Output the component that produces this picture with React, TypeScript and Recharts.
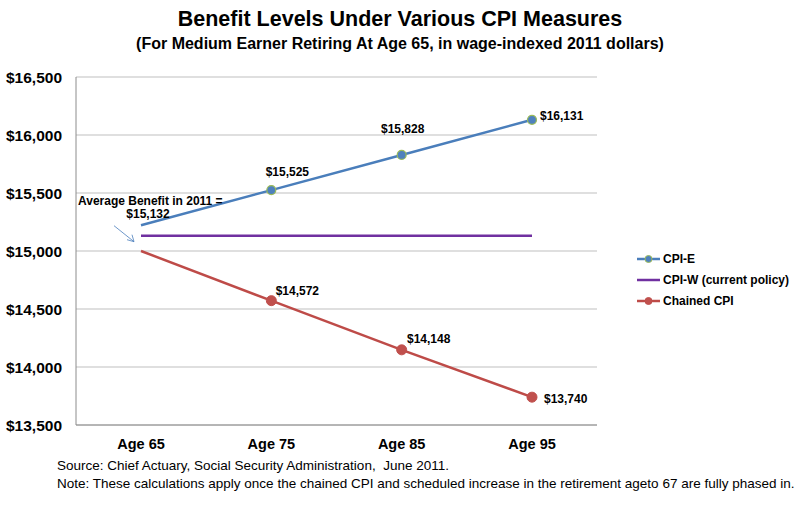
import React from 'react';
import { LineChart, Line, XAxis, YAxis, CartesianGrid, LabelList } from 'recharts';

const categories = ['Age 65', 'Age 75', 'Age 85', 'Age 95'];
const cpiE = [15222, 15525, 15828, 16131];
const cpiW = [15132, 15132, 15132, 15132];
const chained = [15000, 14572, 14148, 13740];
const yTicks = [13500, 14000, 14500, 15000, 15500, 16000, 16500];
const seriesNames = ['CPI-E', 'CPI-W (current policy)', 'Chained CPI'];

const data = categories.map((c, i) => ({ name: c, e: cpiE[i], w: cpiW[i], c: chained[i] }));

const FONT = '"Liberation Sans", Arial, sans-serif';
const fmt = (v: number) => '$' + v.toLocaleString('en-US');

const eOff = [null, { dx: 16, dy: -18, anchor: 'middle' }, { dx: 1, dy: -26, anchor: 'middle' }, { dx: 8, dy: -4, anchor: 'start' }];
const cOff = [null, { dx: 26, dy: -10, anchor: 'middle' }, { dx: 27, dy: -11, anchor: 'middle' }, { dx: 12, dy: 2, anchor: 'start' }];

const makeLabel = (offs: any[]) => (props: any) => {
  const { x, y, value, index } = props;
  const o = offs[index];
  if (!o) return null;
  return (
    <text x={x + o.dx} y={y + o.dy} textAnchor={o.anchor} dominantBaseline="central"
      fontFamily={FONT} fontWeight="bold" fontSize={12} fill="#000">{fmt(value)}</text>
  );
};

const wLabel = (props: any) => {
  const { x, y, value, index } = props;
  if (index !== 0) return null;
  return (
    <g>
      <text x={x - 63} y={y - 35} dominantBaseline="central" fontFamily={FONT} fontWeight="bold" fontSize={12} fill="#000">Average Benefit in 2011 =</text>
      <text x={x + 7} y={y - 22} textAnchor="middle" dominantBaseline="central" fontFamily={FONT} fontWeight="bold" fontSize={12} fill="#000">{fmt(value)}</text>
      <line x1={x - 27} y1={y - 10} x2={x - 7} y2={y + 6} stroke="#4A7EBB" strokeWidth={0.8} />
      <path d={`M ${x - 7} ${y + 6} L ${x - 14} ${y + 4} M ${x - 7} ${y + 6} L ${x - 9} ${y - 1}`} stroke="#4A7EBB" strokeWidth={0.8} fill="none" />
    </g>
  );
};

const legendItems = [
  { name: seriesNames[0], color: '#4A7EBB', dot: '#4F81BD', dotStroke: '#9BBB59' },
  { name: seriesNames[1], color: '#7030A0', dot: null, dotStroke: null },
  { name: seriesNames[2], color: '#BE4B48', dot: '#C0504D', dotStroke: '#C0504D' },
];

export default function App() {
  return (
    <div style={{ position: 'absolute', left: 0, top: 0, width: 800, height: 505, background: '#fff' }}>
      <div style={{ position: 'absolute', left: 0, top: 6, width: 800, textAlign: 'center', fontFamily: FONT, fontWeight: 'bold', fontSize: 21.5, lineHeight: '26px' }}>
        Benefit Levels Under Various CPI Measures
      </div>
      <div style={{ position: 'absolute', left: 0, top: 34, width: 800, textAlign: 'center', fontFamily: FONT, fontWeight: 'bold', fontSize: 16, lineHeight: '20px' }}>
        (For Medium Earner Retiring At Age 65, in wage-indexed 2011 dollars)
      </div>
      <LineChart width={800} height={505} data={data} margin={{ top: 77, right: 203, bottom: 50, left: 0 }}>
        <CartesianGrid horizontal vertical={false} stroke="#BFBFBF" />
        <XAxis dataKey="name" height={30} stroke="#8C8C8C" tickLine={false} padding={{ left: 65, right: 65 }}
          tick={{ fontFamily: FONT, fontWeight: 'bold', fontSize: 14.5, fill: '#000' }} tickMargin={8} />
        <YAxis domain={[13500, 16500]} ticks={yTicks} width={76} stroke="#8C8C8C" tickLine={false}
          tickFormatter={fmt} tick={{ fontFamily: FONT, fontWeight: 'bold', fontSize: 15.5, fill: '#000' }} tickMargin={8} />
        <Line dataKey="e" name={seriesNames[0]} stroke="#4A7EBB" strokeWidth={2.5} isAnimationActive={false}
          dot={(p: any) => p.index === 0 ? <g key={p.index} /> : <circle key={p.index} cx={p.cx} cy={p.cy} r={4.5} fill="#4F81BD" stroke="#9BBB59" strokeWidth={1.2} />}>
          <LabelList dataKey="e" content={makeLabel(eOff)} />
        </Line>
        <Line dataKey="w" name={seriesNames[1]} stroke="#7030A0" strokeWidth={2.5} dot={false} isAnimationActive={false}>
          <LabelList dataKey="w" content={wLabel} />
        </Line>
        <Line dataKey="c" name={seriesNames[2]} stroke="#BE4B48" strokeWidth={2.5} isAnimationActive={false}
          dot={(p: any) => p.index === 0 ? <g key={p.index} /> : <circle key={p.index} cx={p.cx} cy={p.cy} r={5} fill="#C0504D" stroke="#C0504D" strokeWidth={1} />}>
          <LabelList dataKey="c" content={makeLabel(cOff)} />
        </Line>
      </LineChart>
      <div style={{ position: 'absolute', left: 636, top: 248, fontFamily: FONT, fontWeight: 'bold', fontSize: 12 }}>
        {legendItems.map((it, i) => (
          <div key={i} style={{ display: 'flex', alignItems: 'center', height: 21 }}>
            <svg width={25} height={10} style={{ marginRight: 2 }}>
              <line x1={1} y1={5} x2={24} y2={5} stroke={it.color} strokeWidth={2.5} />
              {it.dot && <circle cx={12.5} cy={5} r={3.5} fill={it.dot} stroke={it.dotStroke} strokeWidth={1} />}
            </svg>
            <span>{it.name}</span>
          </div>
        ))}
      </div>
      <div style={{ position: 'absolute', left: 57, top: 457, fontFamily: FONT, fontSize: 13.5, lineHeight: '18px', whiteSpace: 'pre' }}>
        {'Source: Chief Actuary, Social Security Administration,  June 2011.\nNote: These calculations apply once the chained CPI and scheduled increase in the retirement ageto 67 are fully phased in.'}
      </div>
    </div>
  );
}
